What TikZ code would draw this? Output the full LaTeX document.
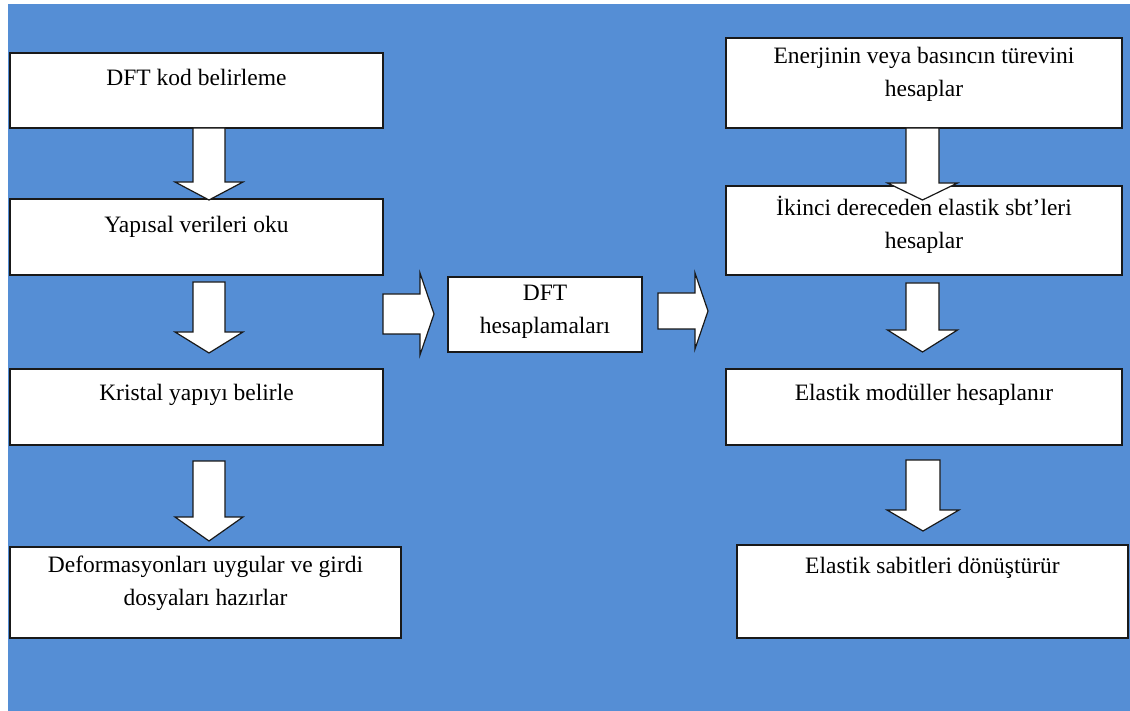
\documentclass[tikz,border=0pt]{standalone}
\usepackage{fontspec}
\setmainfont{Liberation Serif}
\usetikzlibrary{fit}

\definecolor{bgblue}{RGB}{85,142,213}
\definecolor{edge}{RGB}{25,25,25}

\tikzset{
  box/.style={draw=edge, line width=1.3pt, fill=white, inner sep=0pt},
  txt/.style={anchor=north, align=center, inner sep=0pt,
    font=\fontsize{23.5}{33}\selectfont,
    execute at begin node=\rule{0pt}{22pt}},
  blockarrow/.style={draw=edge, line width=1.2pt, fill=white, line join=miter}
}

% downward block arrow: centre x, shaft top, head start, tip, half shaft, half head
\newcommand\downblock[6]{%
  \draw[blockarrow] ({#1-#5},#2) -- ({#1+#5},#2) -- ({#1+#5},#3) -- ({#1+#6},#3)
    -- (#1,#4) -- ({#1-#6},#3) -- ({#1-#5},#3) -- cycle;}
% rightward block arrow: shaft left, head start, tip, centre y, half shaft, half head
\newcommand\rightblock[6]{%
  \draw[blockarrow] (#1,{#4-#5}) -- (#2,{#4-#5}) -- (#2,{#4-#6}) -- (#3,#4)
    -- (#2,{#4+#6}) -- (#2,{#4+#5}) -- (#1,{#4+#5}) -- cycle;}

\begin{document}
\begin{tikzpicture}[x=1pt, y=-1pt]
\useasboundingbox (0,0) rectangle (1130,711);
\fill[bgblue] (8,4) rectangle (1130,711);

% left column
\node[box, fit={(10,53) (383,128)}] (l1) {};
\node[box, fit={(10,199) (383,275)}] (l2) {};
\node[box, fit={(10,369) (383,445)}] (l3) {};
\node[box, fit={(10,547) (401,638)}] (l4) {};
% middle
\node[box, fit={(448,277) (642,352)}] (m) {};
% right column
\node[box, fit={(726,38) (1122,128)}] (r1) {};
\node[box, fit={(726,186) (1122,275)}] (r2) {};
\node[box, fit={(726,369) (1122,445)}] (r3) {};
\node[box, fit={(737,545) (1128,638)}] (r4) {};

% texts
\node[txt] (l1t) at (196.5,63) {DFT kod belirleme};
\node[txt] (l2t) at (196.5,210) {Yapısal verileri oku};
\node[txt] (l3t) at (196.5,378) {Kristal yapıyı belirle};
\node[txt] (l4t) at (205.5,556) {Deformasyonları uygular ve girdi\\dosyaları hazırlar};
\node[txt] (mt) at (545,285) {DFT\\hesaplamaları};
\node[txt] (r1t) at (924,47) {Enerjinin veya basıncın türevini\\hesaplar};
\node[txt] (r2t) at (924,196) {İkinci dereceden elastik sbt’leri\\hesaplar};
\node[txt] (r3t) at (924,378) {Elastik modüller hesaplanır};
\node[txt] (r4t) at (932.5,551) {Elastik sabitleri dönüştürür};

% left column arrows
\downblock{209}{128}{182}{200}{16}{34}
\downblock{209}{282}{332}{353}{16}{34}
\downblock{209}{461}{517}{541}{16}{34}
% arrows into and out of the calculation step
\rightblock{383}{420}{434}{314}{20}{41}
\rightblock{658}{695}{708}{311}{18}{38}
% right column arrows
\downblock{922.5}{128}{183}{200}{16.5}{35}
\downblock{922.5}{283}{330}{352}{16.5}{35}
\downblock{923}{460}{510}{531}{17}{36}
\end{tikzpicture}
\end{document}
